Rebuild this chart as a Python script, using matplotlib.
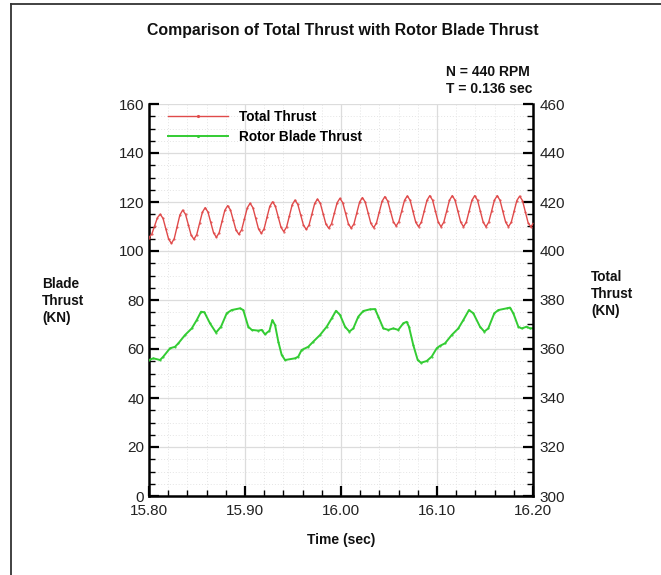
import numpy as np
import matplotlib
matplotlib.use("Agg")
import matplotlib.pyplot as plt
from matplotlib.lines import Line2D
from matplotlib.ticker import MultipleLocator, FormatStrFormatter

plt.rcParams['font.family'] = ['Liberation Sans', 'DejaVu Sans']

# ---------------- data ----------------
# Total thrust (right axis, KN), uniform time sampling
total_t0 = 15.80
total_dt = 0.002925
total_thrust = [
    405.5, 406.9, 410.3, 413.6, 415.0, 413.3, 409.1, 404.8,
    403.1, 405.1, 409.9, 414.7, 416.7, 415.0, 410.8, 406.5,
    404.8, 406.7, 411.3, 415.8, 417.7, 415.9, 411.7, 407.4,
    405.6, 407.5, 412.1, 416.6, 418.5, 416.8, 412.7, 408.5,
    406.8, 408.7, 413.2, 417.6, 419.5, 417.7, 413.4, 409.0,
    407.2, 409.1, 413.7, 418.2, 420.1, 418.3, 414.0, 409.7,
    407.9, 409.8, 414.4, 418.9, 420.8, 419.0, 414.8, 410.6,
    408.8, 410.6, 415.0, 419.4, 421.2, 419.5, 415.3, 411.0,
    409.3, 411.1, 415.4, 419.7, 421.5, 419.7, 415.4, 411.1,
    409.3, 411.1, 415.6, 420.0, 421.8, 420.0, 415.7, 411.3,
    409.5, 411.4, 415.9, 420.3, 422.2, 420.4, 416.2, 412.0,
    410.2, 412.0, 416.4, 420.7, 422.5, 420.7, 416.2, 411.7,
    409.9, 411.8, 416.3, 420.7, 422.6, 420.7, 416.3, 411.8,
    409.9, 411.8, 416.3, 420.7, 422.6, 420.7, 416.3, 411.8,
    409.9, 411.8, 416.3, 420.7, 422.6, 420.7, 416.3, 411.8,
    409.9, 411.8, 416.3, 420.7, 422.6, 420.7, 416.3, 411.8,
    409.9, 411.7, 416.2, 420.6, 422.4, 420.6, 416.1, 411.6,
    409.8, 411.6,
]
total_time = total_t0 + total_dt * np.arange(len(total_thrust))

# Rotor blade thrust (left axis, KN)
blade_time = [
    15.8000, 15.8045, 15.8115, 15.8149, 15.8219, 15.8271, 15.8305, 15.8375,
    15.8445, 15.8497, 15.8542, 15.8577, 15.8635, 15.8698, 15.8750, 15.8810,
    15.8861, 15.8948, 15.8982, 15.9034, 15.9070, 15.9139, 15.9174, 15.9208,
    15.9255, 15.9285, 15.9313, 15.9347, 15.9382, 15.9417, 15.9521, 15.9555,
    15.9590, 15.9659, 15.9711, 15.9781, 15.9851, 15.9903, 15.9948, 15.9990,
    16.0042, 16.0087, 16.0128, 16.0180, 16.0232, 16.0302, 16.0354, 16.0389,
    16.0441, 16.0493, 16.0545, 16.0597, 16.0649, 16.0684, 16.0708, 16.0753,
    16.0799, 16.0833, 16.0893, 16.0945, 16.0997, 16.1031, 16.1083, 16.1153,
    16.1222, 16.1274, 16.1333, 16.1378, 16.1448, 16.1493, 16.1534, 16.1597,
    16.1639, 16.1726, 16.1760, 16.1795, 16.1847, 16.1882, 16.1934, 16.1969,
    16.2000,
]
blade_thrust = [
    55.5, 56.2, 55.5, 56.9, 60.3, 60.9, 62.3, 65.7,
    68.4, 71.8, 75.2, 75.0, 70.5, 66.7, 69.1, 74.6,
    75.9, 76.6, 75.9, 69.1, 67.8, 67.5, 67.8, 66.0,
    67.5, 71.8, 69.8, 63.0, 57.6, 55.5, 56.2, 56.9,
    59.6, 60.9, 63.0, 65.7, 69.1, 72.5, 75.6, 73.9,
    69.1, 67.1, 68.4, 73.2, 75.5, 76.2, 76.3, 73.2,
    68.4, 67.8, 68.4, 67.8, 70.5, 71.1, 69.1, 61.6,
    55.5, 54.4, 55.1, 56.9, 60.3, 61.3, 62.3, 65.7,
    68.4, 71.8, 75.9, 74.6, 69.1, 67.1, 68.4, 74.6,
    75.9, 76.6, 76.9, 74.6, 69.1, 68.4, 69.1, 68.4,
    68.5,
]

series_labels = ["Total Thrust", "Rotor Blade Thrust"]
title = "Comparison of Total Thrust with Rotor Blade Thrust"
xlabel = "Time (sec)"
left_label = "Blade\nThrust\n(KN)"
right_label = "Total\nThrust\n(KN)"
annot = "N = 440 RPM\nT = 0.136 sec"

# ---------------- figure ----------------
W, H = 661, 575
fig = plt.figure(figsize=(W / 100, H / 100), dpi=100)
fig.patch.set_facecolor('white')

ax = fig.add_axes([149 / W, 1 - 496 / H, 384 / W, 392 / H])
ax2 = ax.twinx()

red = '#e04a4a'
green = '#33cc33'

l_green, = ax.plot(blade_time, blade_thrust, color=green, lw=1.4,
                   marker='.', markersize=1.0, zorder=3)
l_red, = ax2.plot(total_time, total_thrust, color=red, lw=1.0,
                  marker='.', markersize=1.0, zorder=3)

ax.set_xlim(15.80, 16.20)
ax.set_ylim(0, 160)
ax2.set_ylim(300, 460)

ax.xaxis.set_major_locator(MultipleLocator(0.1))
ax.xaxis.set_minor_locator(MultipleLocator(0.02))
ax.xaxis.set_major_formatter(FormatStrFormatter('%.2f'))
for a in (ax, ax2):
    a.yaxis.set_major_locator(MultipleLocator(20))
    a.yaxis.set_minor_locator(MultipleLocator(5))

ax.grid(True, which='major', color='#dcdcdc', lw=0.9)
ax.grid(True, which='minor', color='#e4e4e4', lw=0.7, ls=(0, (1, 2)))
ax.set_axisbelow(True)

ax.tick_params(axis='both', which='major', direction='in', length=7,
               width=1.6, labelsize=11, colors='black', labelcolor='#222222')
ax.tick_params(axis='both', which='minor', direction='in', length=4,
               width=1.0, colors='black')
ax.tick_params(axis='y', which='both', left=True, right=False, pad=3.5)
ax.tick_params(axis='x', which='both', top=False, bottom=True, pad=5.5)
ax2.tick_params(axis='y', which='major', direction='in', length=7,
                width=1.6, labelsize=11, labelcolor='#222222', pad=5)
ax2.tick_params(axis='y', which='minor', direction='in', length=4, width=1.0)

for a in (ax, ax2):
    a.spines['top'].set_visible(False)
ax2.spines['left'].set_visible(False)
ax2.spines['bottom'].set_visible(False)
ax.spines['right'].set_visible(False)
for s in ('left', 'bottom'):
    ax.spines[s].set_linewidth(1.8)
ax2.spines['right'].set_linewidth(1.8)

leg = ax.legend([l_red, l_green], series_labels, loc='upper left',
                bbox_to_anchor=(0.049, 0.985), frameon=False,
                handlelength=4.4, handletextpad=0.85, labelspacing=0.45,
                borderpad=0, borderaxespad=0, numpoints=1, markerscale=2.5,
                prop={'weight': 'bold', 'size': 9.8})

# texts
fig.text(343 / W, 1 - 30 / H, title, ha='center', va='center',
         fontsize=11.4, fontweight='bold', color='#111111')
fig.text(446 / W, 1 - 80.5 / H, annot, ha='left', va='center',
         fontsize=10, fontweight='bold', color='#111111', linespacing=1.25)
fig.text(341 / W, 1 - 540 / H, xlabel, ha='center', va='center',
         fontsize=10, fontweight='bold', color='#111111')
fig.text(42 / W, 1 - 301 / H, left_label, ha='left', va='center',
         fontsize=9.8, fontweight='bold', color='#111111', linespacing=1.3)
fig.text(591 / W, 1 - 294 / H, right_label, ha='left', va='center',
         fontsize=9.8, fontweight='bold', color='#111111', linespacing=1.3)

# outer frame (top and left edges)
fig.add_artist(Line2D([11 / W, 11 / W], [0, 1 - 4 / H],
                      transform=fig.transFigure, color='#333333', lw=1.3))
fig.add_artist(Line2D([11 / W, 1], [1 - 4 / H, 1 - 4 / H],
                      transform=fig.transFigure, color='#333333', lw=1.3))

fig.savefig('out.png', dpi=100)
